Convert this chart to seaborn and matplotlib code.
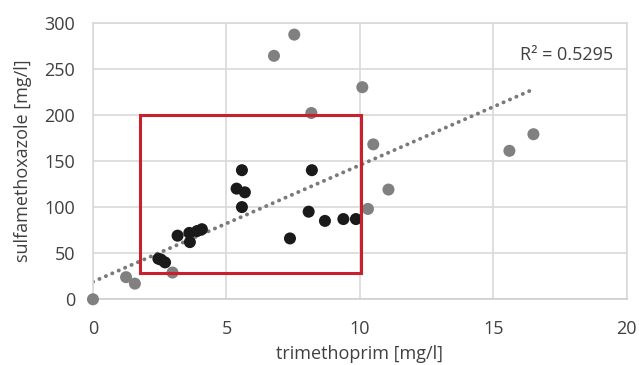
import numpy as np
import pandas as pd
import matplotlib
matplotlib.use("Agg")
import matplotlib.pyplot as plt
from matplotlib.patches import Rectangle
import seaborn as sns

# Samples outside the highlighted window
outer_tmp = [0.0, 1.24, 1.57, 2.98, 6.78, 7.54, 8.18, 10.09, 10.5, 10.3, 11.07, 15.6, 16.5]
outer_smx = [0, 24, 17, 29, 264, 287, 202, 230, 168, 98, 119, 161, 179]

# Samples inside the highlighted window
inner_tmp = [2.45, 2.55, 2.7, 3.17, 3.61, 3.63, 3.9, 4.08, 5.38, 5.58, 5.69, 5.58,
             7.38, 8.08, 8.2, 8.69, 9.38, 9.85]
inner_smx = [44, 43, 40, 69, 72, 62, 74, 76, 120, 140, 116, 100,
             66, 95, 140, 85, 87, 87]

# Linear trend (Excel-style) and its coefficient of determination
trend_intercept = 19.0
trend_slope = 12.65
trend_x_end = 16.5
r_squared_text = "R² = 0.5295"

# Highlighted window [x0, x1] x [y0, y1]
window_x = [1.75, 10.05]
window_y = [29, 200]

x_ticks = [0, 5, 10, 15, 20]
y_ticks = [0, 50, 100, 150, 200, 250, 300]

df = pd.DataFrame({
    "trimethoprim": outer_tmp + inner_tmp,
    "sulfamethoxazole": outer_smx + inner_smx,
    "group": ["outer"] * len(outer_tmp) + ["inner"] * len(inner_tmp),
})

sns.set_theme(style="white")
plt.rcParams["font.family"] = ["Open Sans", "DejaVu Sans"]

text_col = "#404040"
grid_col = "#d9d9d9"

fig = plt.figure(figsize=(6.39, 3.65), dpi=100)
ax = fig.add_axes([0.1455, 0.180, 0.8355, 0.758])

ax.set_xlim(0, 20)
ax.set_ylim(0, 300)
ax.set_xticks(x_ticks)
ax.set_yticks(y_ticks)
ax.grid(True, color=grid_col, linewidth=1.2, zorder=0)
for s in ax.spines.values():
    s.set_color(grid_col)
    s.set_linewidth(1.2)
ax.spines["bottom"].set_color("#cfcfcf")

# trend line
xs = np.array([0.0, trend_x_end])
ax.plot(xs, trend_intercept + trend_slope * xs, color="#7a7a7a",
        linewidth=2.8, linestyle=(0, (0.05, 1.75)), dash_capstyle="round",
        zorder=2)

sns.scatterplot(data=df, x="trimethoprim", y="sulfamethoxazole", hue="group",
                palette={"outer": "#808080", "inner": "#1a1a1a"},
                s=75, edgecolor="none", legend=False, ax=ax, zorder=3,
                clip_on=False)

ax.add_patch(Rectangle((window_x[0], window_y[0]), window_x[1] - window_x[0],
                       window_y[1] - window_y[0], fill=False,
                       edgecolor="#c9202e", linewidth=2.2, zorder=4))

ax.text(19.5, 265, r_squared_text, ha="right", va="center",
        fontsize=13, color=text_col)

ax.tick_params(axis="both", length=0, labelsize=13, labelcolor=text_col)
ax.tick_params(axis="x", pad=15)
ax.tick_params(axis="y", pad=13)
ax.set_xlabel("trimethoprim [mg/l]", fontsize=13, color=text_col, labelpad=5)
ax.set_ylabel("sulfamethoxazole [mg/l]", fontsize=13, color=text_col, labelpad=9)

fig.savefig("out.png", dpi=100, facecolor="white")
